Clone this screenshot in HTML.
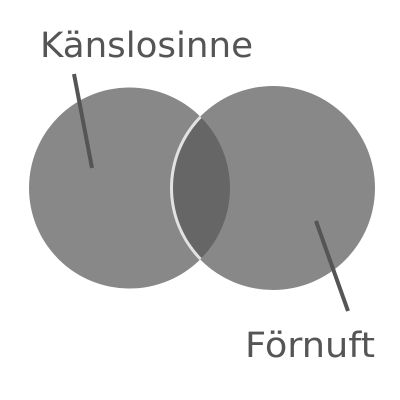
<!DOCTYPE html>
<html><head><meta charset="utf-8"><style>
html,body{margin:0;padding:0;background:#fff;width:400px;height:400px;overflow:hidden}
svg text{font-family:"DejaVu Sans","Liberation Sans",sans-serif;fill:#555}
</style></head><body>
<svg width="400" height="400" viewBox="0 0 400 400">
<defs>
<clipPath id="rc"><circle cx="273" cy="188" r="100"/></clipPath>
<clipPath id="lc"><circle cx="129.5" cy="188" r="100.5"/></clipPath>
</defs>
<circle cx="129.5" cy="188" r="100.5" fill="#888"/>
<circle cx="273" cy="188" r="102" fill="#888"/>
<circle cx="273" cy="188" r="101" fill="none" stroke="#e2e2e2" stroke-width="4" clip-path="url(#lc)"/>
<circle cx="129.5" cy="188" r="100.5" fill="#666" clip-path="url(#rc)"/>
<line x1="74" y1="74" x2="92" y2="168" stroke="#555" stroke-width="4"/>
<line x1="316" y1="221" x2="348" y2="311" stroke="#555" stroke-width="4"/>
<text x="40" y="57" font-size="35" textLength="213" lengthAdjust="spacingAndGlyphs">Känslosinne</text>
<text x="245" y="357" font-size="35" textLength="130" lengthAdjust="spacingAndGlyphs">Förnuft</text>
</svg>
</body></html>
